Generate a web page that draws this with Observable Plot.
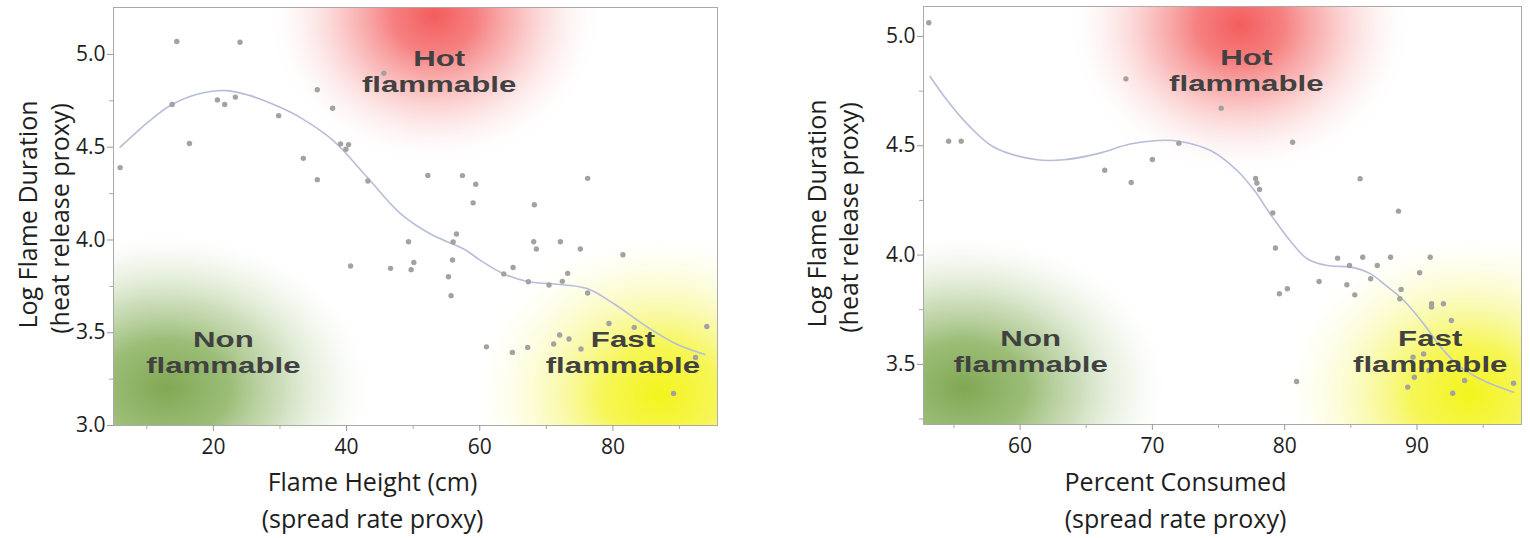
<!DOCTYPE html>
<html><head><meta charset="utf-8">
<script src="https://cdn.jsdelivr.net/npm/d3@7"></script>
<script src="https://cdn.jsdelivr.net/npm/@observablehq/plot@0.6"></script>
<style>
body{margin:0;background:#fff;}
#wrap{position:relative;width:1530px;height:538px;overflow:hidden;background:#fff;}
#wrap > svg{position:absolute;top:0;}
</style></head><body>
<svg width="0" height="0" style="position:absolute">
<defs>
<radialGradient id="gRed">
<stop offset="0" stop-color="#f45c5c" stop-opacity="1"/>
<stop offset="0.25" stop-color="#f56f6f" stop-opacity="0.88"/>
<stop offset="0.5" stop-color="#f79393" stop-opacity="0.6"/>
<stop offset="0.75" stop-color="#fac0c0" stop-opacity="0.28"/>
<stop offset="1" stop-color="#ffffff" stop-opacity="0"/>
</radialGradient>
<radialGradient id="gGreen">
<stop offset="0" stop-color="#80a853" stop-opacity="1"/>
<stop offset="0.3" stop-color="#90b668" stop-opacity="0.9"/>
<stop offset="0.55" stop-color="#abc78d" stop-opacity="0.6"/>
<stop offset="0.8" stop-color="#d3e3c1" stop-opacity="0.28"/>
<stop offset="1" stop-color="#ffffff" stop-opacity="0"/>
</radialGradient>
<radialGradient id="gYellow">
<stop offset="0" stop-color="#f4f41c" stop-opacity="1"/>
<stop offset="0.3" stop-color="#f5f545" stop-opacity="0.9"/>
<stop offset="0.55" stop-color="#f7f786" stop-opacity="0.6"/>
<stop offset="0.8" stop-color="#fbfbc4" stop-opacity="0.28"/>
<stop offset="1" stop-color="#ffffff" stop-opacity="0"/>
</radialGradient>
</defs></svg>
<div id="wrap"></div>
<script>
// ---------- Left panel: Flame Height ----------
const flameHeight = [6.0,14.5,13.8,16.4,20.6,21.7,23.3,24.0,29.8,33.5,35.6,35.6,37.9,39.1,40.3,39.9,43.2,45.6,49.3,40.6,46.6,50.1,49.7,52.2,57.4,59.4,59.0,68.2,76.2,56.5,56.0,68.1,68.5,72.1,75.1,81.5,55.9,65.0,55.3,55.7,63.6,67.3,70.4,72.4,73.2,76.2,79.4,83.2,94.1,72.0,71.1,73.4,61.0,64.9,67.2,75.2,92.4,89.1];
const logDurationA = [4.39,5.07,4.73,4.52,4.755,4.73,4.77,5.066,4.67,4.44,4.81,4.325,4.71,4.518,4.514,4.489,4.318,4.899,3.99,3.86,3.847,3.879,3.84,4.348,4.347,4.30,4.20,4.19,4.332,4.032,3.989,3.99,3.951,3.99,3.951,3.92,3.892,3.852,3.802,3.70,3.817,3.775,3.757,3.777,3.82,3.714,3.55,3.529,3.534,3.488,3.439,3.466,3.424,3.394,3.421,3.412,3.367,3.173];
const fitXA = [6,10.5,13.8,18,22,25.5,30,33,38,43.1,48.1,52.6,57.6,60.1,63.6,67.3,71.1,76.1,80.2,85,89.2,93.8];
const fitYA = [4.50,4.645,4.73,4.789,4.805,4.778,4.715,4.661,4.536,4.338,4.142,4.032,3.951,3.89,3.817,3.775,3.763,3.738,3.655,3.535,3.445,3.383];
const xTicksA = [20,40,60,80];
const xMinorA = [10,30,50,70,90];
const yTicksA = [3.0,3.5,4.0,4.5,5.0];
const yMinorA = [3.25,3.75,4.25,4.75];

// ---------- Right panel: Percent Consumed ----------
const percentConsumed = [53.1,54.6,55.55,68.0,66.4,68.4,70.0,72.0,75.2,80.6,77.8,77.9,78.1,79.1,85.7,88.6,79.3,84.0,85.9,88.0,91.0,84.9,87.0,90.2,86.5,82.6,84.7,85.3,79.6,80.2,88.8,88.7,91.1,91.1,92.0,92.6,89.7,90.5,89.8,90.9,89.3,93.6,92.7,97.3,80.9];
const logDurationB = [5.063,4.521,4.521,4.806,4.388,4.332,4.437,4.512,4.672,4.516,4.35,4.33,4.30,4.193,4.349,4.201,4.032,3.986,3.99,3.99,3.99,3.952,3.952,3.919,3.892,3.879,3.864,3.818,3.823,3.846,3.843,3.80,3.777,3.762,3.777,3.701,3.533,3.548,3.441,3.472,3.396,3.426,3.368,3.414,3.422];
const fitXB = [53.2,54.5,56.0,58.0,61.3,63.3,65.8,68.4,70.4,72.0,74.4,76.4,77.7,78.9,80.4,81.7,83.2,85.0,86.5,87.5,89.0,90.5,91.8,93.3,95.0,97.3];
const fitYB = [4.817,4.707,4.60,4.494,4.436,4.436,4.463,4.509,4.524,4.521,4.478,4.387,4.296,4.189,4.067,3.983,3.952,3.945,3.914,3.868,3.792,3.686,3.579,3.487,3.426,3.373];
const xTicksB = [60,70,80,90];
const xMinorB = [55,65,75,85,95];
const yTicksB = [3.5,4.0,4.5,5.0];
const yMinorB = [3.25,3.75,4.25,4.75];

// ---------- Zones (Hot / Non / Fast) ----------
const zoneNames = ["Hot\nflammable","Non\nflammable","Fast\nflammable"];
const zoneFills = ["url(#gRed)","url(#gGreen)","url(#gYellow)"];
const zoneCxA = [53.3,13.0,87.2], zoneCyA = [5.21,3.2,3.16], zoneRxA = [25.5,31.5,29.0], zoneRyA = [0.82,0.86,0.9];
const zoneLxA = [53.9,21.5,81.5], zoneLyA = [4.913,3.40,3.40];
const zoneCxB = [76.66,55.8,94.0], zoneCyB = [5.05,3.39,3.36], zoneRxB = [13.2,15.8,14.6], zoneRyB = [0.7,0.72,0.76];
const zoneLxB = [77.1,60.8,91.0], zoneLyB = [4.847,3.564,3.564];

const xTitle1A = "Flame Height (cm)", xTitle1B = "Percent Consumed", xTitle2 = "(spread rate proxy)";
const yTitle1 = "Log Flame Duration", yTitle2 = "(heat release proxy)";

function panel(cfg) {
  const idx = d3.range(cfg.xs.length);
  const fit = d3.range(cfg.fx.length);
  const zones = d3.range(zoneNames.length);
  const z = cfg.zones;
  const titleFont = {lineAnchor: "middle", textAnchor: "middle", fill: "#1e1e1e", fontSize: 25};
  return Plot.plot({
    width: cfg.width, height: 538,
    marginLeft: cfg.ml, marginRight: cfg.mr, marginTop: cfg.mt, marginBottom: cfg.mb,
    x: {domain: cfg.xDomain},
    y: {domain: cfg.yDomain},
    style: {fontFamily: "'Open Sans', sans-serif", fontSize: "21px", color: "#1e1e1e", background: "transparent", overflow: "visible"},
    marks: [
      Plot.rect(zones, {x1: i => z.cx[i] - z.rx[i], x2: i => z.cx[i] + z.rx[i], y1: i => z.cy[i] - z.ry[i], y2: i => z.cy[i] + z.ry[i], fill: i => zoneFills[i], clip: true}),
      Plot.frame({stroke: "#aaaaaa"}),
      Plot.axisX(cfg.xTicks, {tickSize: 6, tickPadding: 8, stroke: "#999", fill: "#1e1e1e", label: null, tickFormat: d => String(d)}),
      Plot.axisX(cfg.xMinor, {tickSize: 4, stroke: "#aaa", label: null, tickFormat: () => ""}),
      Plot.axisY(cfg.yTicks, {tickSize: 6, tickPadding: 2, stroke: "#999", fill: "#1e1e1e", label: null, tickFormat: ".1f"}),
      Plot.axisY(cfg.yMinor, {tickSize: 4, stroke: "#aaa", label: null, tickFormat: () => ""}),
      Plot.line(fit, {x: i => cfg.fx[i], y: i => cfg.fy[i], curve: "catmull-rom", stroke: "#b7bdd8", strokeWidth: 1.6}),
      Plot.dot(idx, {x: i => cfg.xs[i], y: i => cfg.ys[i], r: 2.7, fill: "#a2a2a2", stroke: "none"}),
      Plot.text(zones, {x: i => z.lx[i], y: i => z.ly[i], text: i => zoneNames[i], fontSize: 22, fontWeight: "bold", fontFamily: "'Liberation Sans', Arial, sans-serif", fill: "#414141", lineHeight: 1.18, lineAnchor: "middle"}),
      Plot.text([cfg.xTitle], {text: d => d, frameAnchor: "bottom", dx: cfg.xtDx, dy: cfg.xtDy1, ...titleFont}),
      Plot.text([xTitle2], {text: d => d, frameAnchor: "bottom", dx: cfg.xtDx, dy: cfg.xtDy2, ...titleFont}),
      Plot.text([yTitle1], {text: d => d, frameAnchor: "left", dx: cfg.ytDx1, dy: -2, rotate: -90, ...titleFont}),
      Plot.text([yTitle2], {text: d => d, frameAnchor: "left", dx: cfg.ytDx2, dy: 2, rotate: -90, ...titleFont})
    ]
  });
}

// the reference draws the zone labels in a horizontally stretched bold face
function stretchZoneLabels(svg) {
  svg.querySelectorAll("text").forEach(t => {
    if (!t.textContent.includes("flammable")) return;
    const b = t.getBBox();
    const cx = b.x + b.width / 2;
    const tr = t.getAttribute("transform") || "";
    t.setAttribute("transform", `${tr} translate(${cx},0) scale(1.42,1) translate(${-cx},0)`);
  });
}

const left = panel({
  width: 765, ml: 113, mr: 48, mt: 7, mb: 113,
  xDomain: [5, 95.7], yDomain: [3.0, 5.253],
  xs: flameHeight, ys: logDurationA, fx: fitXA, fy: fitYA,
  xTicks: xTicksA, xMinor: xMinorA, yTicks: yTicksA, yMinor: yMinorA,
  zones: {cx: zoneCxA, cy: zoneCyA, rx: zoneRxA, ry: zoneRyA, lx: zoneLxA, ly: zoneLyA},
  xTitle: xTitle1A, xtDx: -43, xtDy1: 57, xtDy2: 94, ytDx1: -85, ytDx2: -53
});
const right = panel({
  width: 765, ml: 158, mr: 9, mt: 6, mb: 114,
  xDomain: [52.7, 97.9], yDomain: [3.225, 5.137],
  xs: percentConsumed, ys: logDurationB, fx: fitXB, fy: fitYB,
  xTicks: xTicksB, xMinor: xMinorB, yTicks: yTicksB, yMinor: yMinorB,
  zones: {cx: zoneCxB, cy: zoneCyB, rx: zoneRxB, ry: zoneRyB, lx: zoneLxB, ly: zoneLyB},
  xTitle: xTitle1B, xtDx: -47, xtDy1: 58, xtDy2: 95, ytDx1: -106, ytDx2: -74
});
left.style.left = "0px";
right.style.left = "765px";
document.getElementById("wrap").append(left, right);
stretchZoneLabels(left);
stretchZoneLabels(right);
</script>
</body></html>
